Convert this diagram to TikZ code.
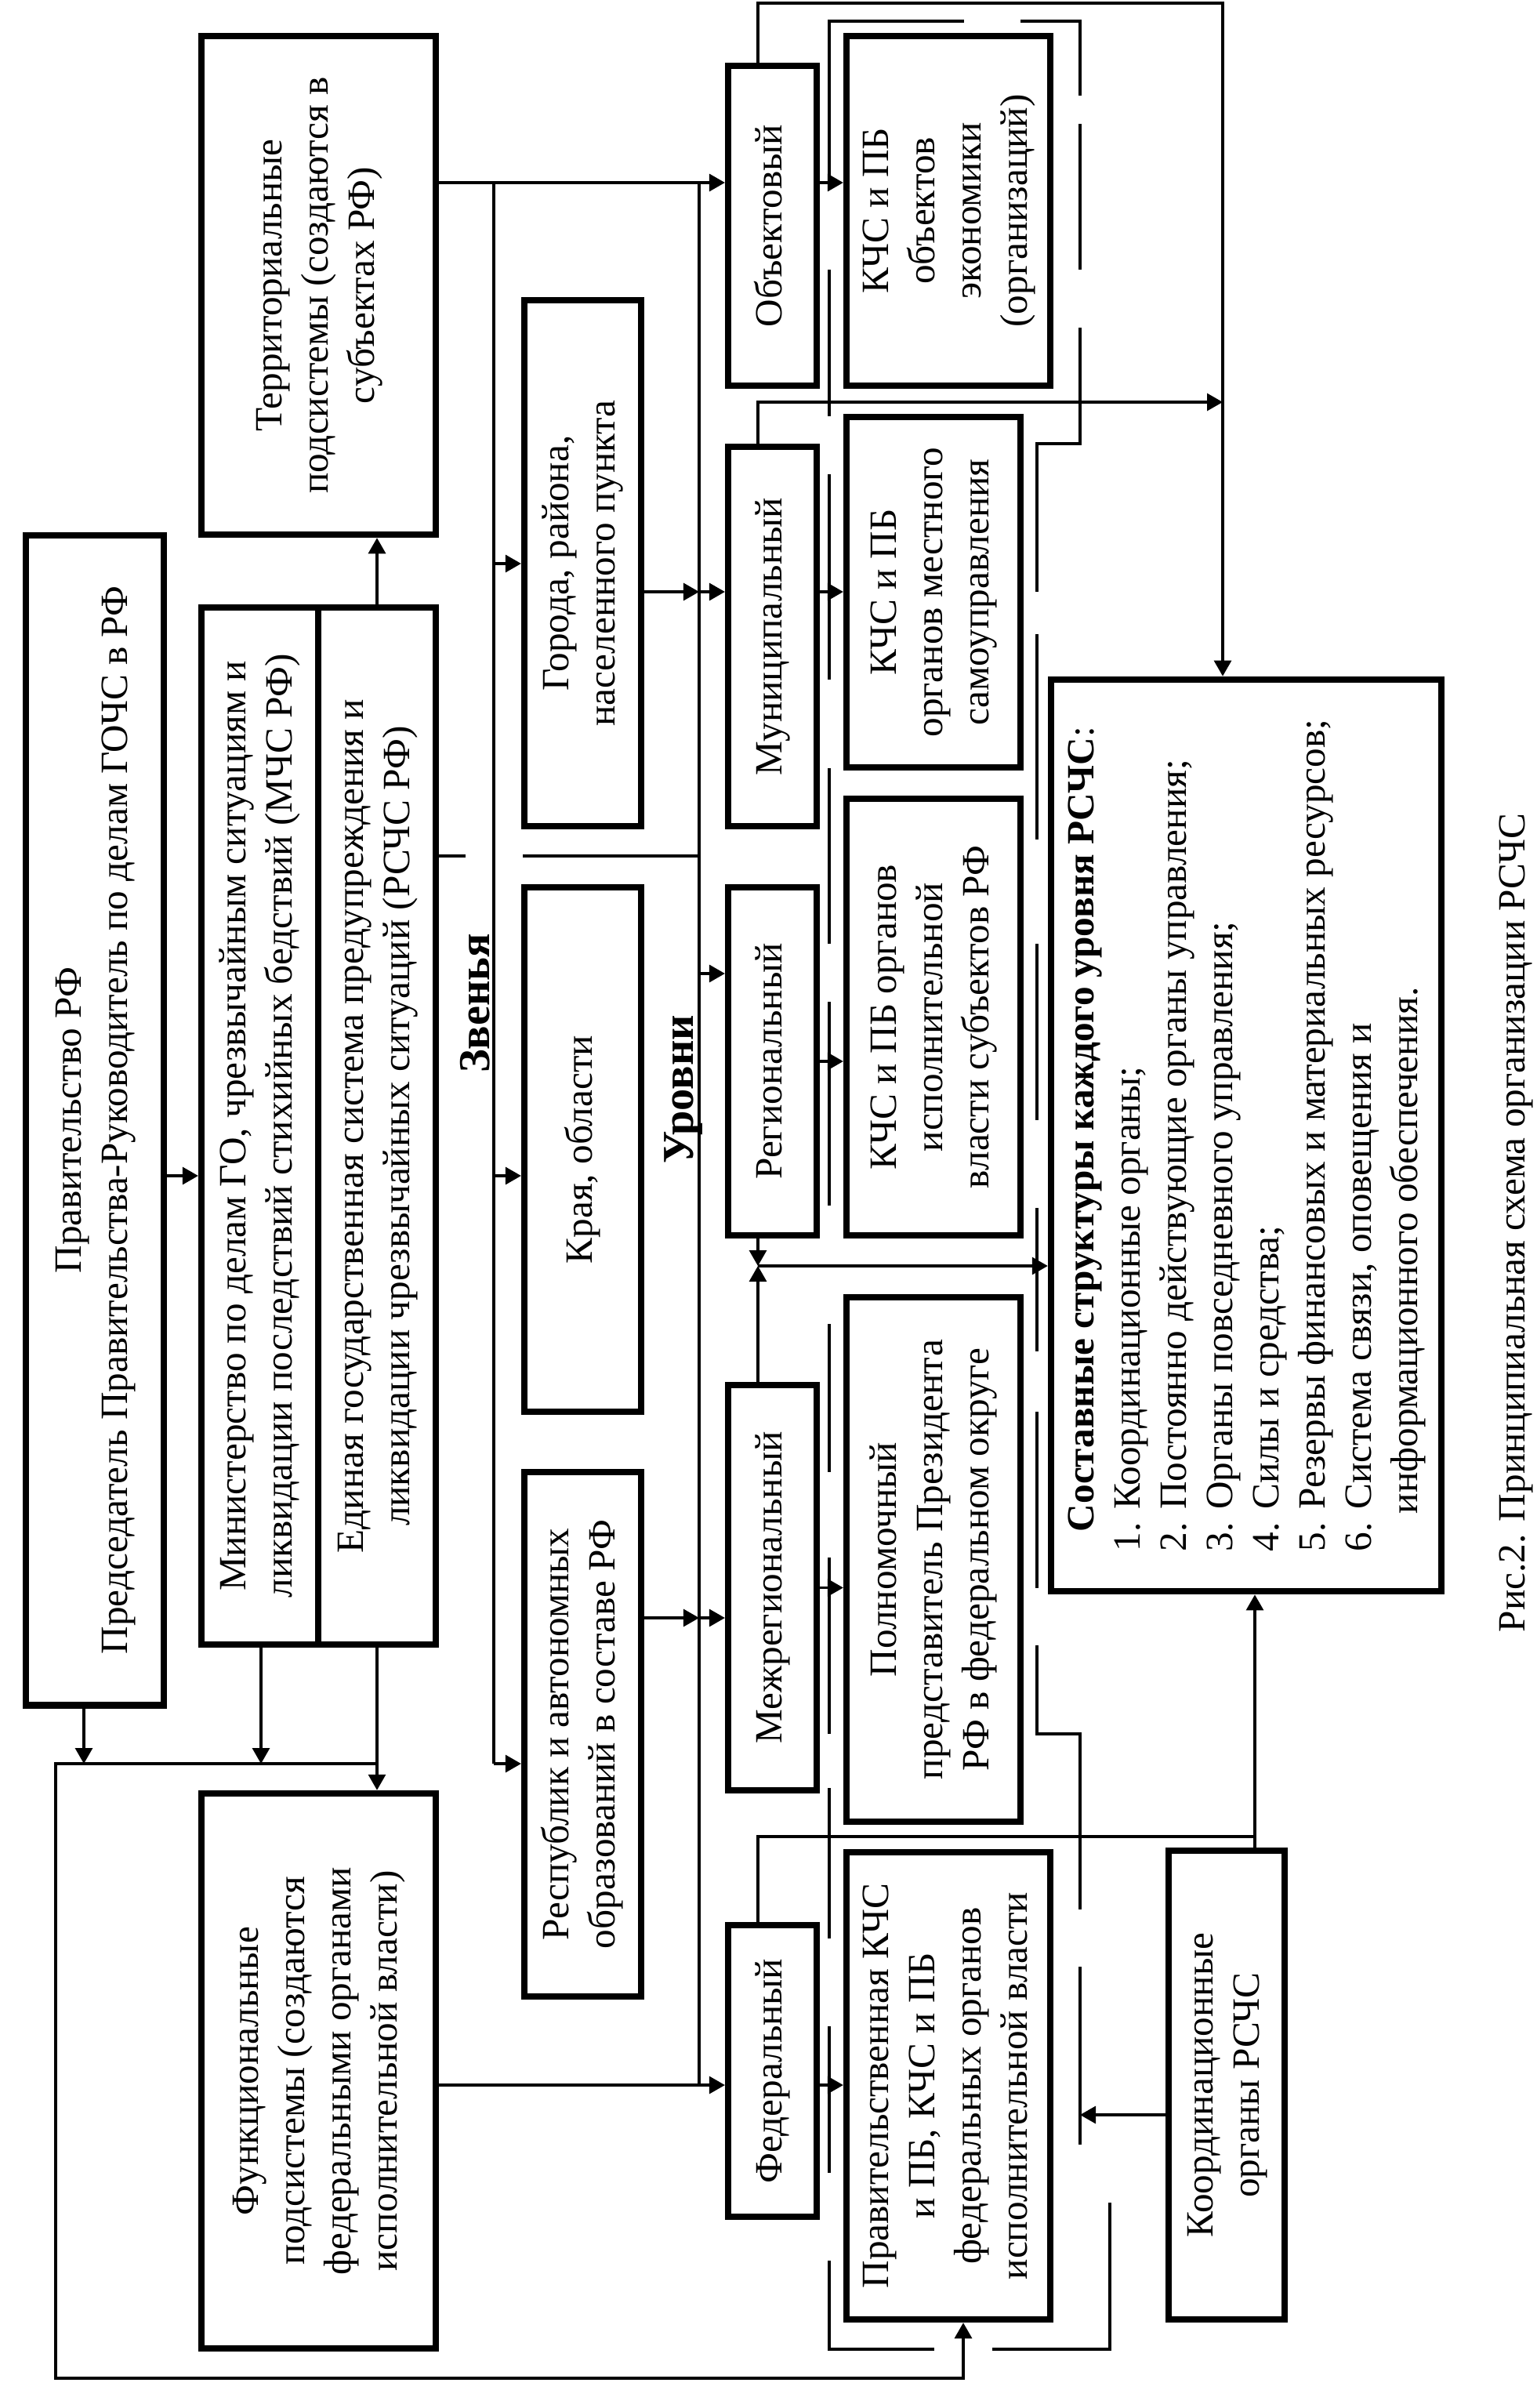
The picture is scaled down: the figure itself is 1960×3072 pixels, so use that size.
\documentclass[tikz,border=0pt]{standalone}
\usepackage{fontspec}
\setmainfont{Liberation Serif}
\usepackage{graphicx}
\usetikzlibrary{arrows.meta}
\newcommand\rtc[1]{\rotatebox{90}{\begin{tabular}{@{}c@{}}#1\end{tabular}}}
\newcommand\rtl[1]{\rotatebox{90}{\begin{tabular}{@{}l@{}}#1\end{tabular}}}
\begin{document}
\begin{tikzpicture}[x=0.01cm,y=-0.01cm,
  bx/.style={draw, line width=2.3pt, inner sep=0pt, font=\fontsize{14pt}{16.8pt}\selectfont},
  arr/.style={line width=0.9pt, -{Triangle[length=0.2cm,width=0.22cm]}},
  ln/.style={line width=0.9pt},
  dsh/.style={line width=0.9pt},
  lbl/.style={rotate=90, font=\fontsize{16pt}{19pt}\selectfont\bfseries, inner sep=0pt},
  captxt/.style={rotate=90, font=\fontsize{14pt}{16.8pt}\selectfont, inner sep=0pt}]
\useasboundingbox (0,0) rectangle (1960,3072);

% ---- boxes ----
\node[bx, minimum width=2.99cm, minimum height=6.36cm] (terr) at (406.5,364)
  {\rtc{Территориальные\\подсистемы (создаются в\\субъектах РФ)}\hspace{0.7cm}};
\node[bx, minimum width=1.49cm, minimum height=13.23cm] (mchs) at (331.5,1436.5)
  {\rtc{Министерство по делам ГО, чрезвычайным ситуациям и\\ликвидации последствий стихийных бедствий (МЧС РФ)}};
\node[bx, minimum width=1.50cm, minimum height=13.23cm] (rschs) at (481,1436.5)
  {\rtc{Единая государственная система предупреждения и\\ликвидации чрезвычайных ситуаций (РСЧС РФ)}};
\node[bx, minimum width=1.76cm, minimum height=14.92cm] (gov) at (121,1429)
  {\rtc{Правительство РФ\\Председатель Правительства-Руководитель по делам ГОЧС в РФ}\hspace{0.22cm}};
\node[bx, minimum width=2.99cm, minimum height=7.08cm] (func) at (406.5,2642)
  {\rtc{Функциональные\\подсистемы (создаются\\федеральными органами\\исполнительной власти)}};

\node[bx, minimum width=1.49cm, minimum height=6.71cm] (gorod) at (743.5,718.5)
  {\rtc{Города, района,\\населенного пункта}};
\node[bx, minimum width=1.49cm, minimum height=6.69cm] (kraya) at (743.5,1466.5)
  {\rtc{Края, области}\hspace{0.53cm}};
\node[bx, minimum width=1.49cm, minimum height=6.69cm] (resp) at (743.5,2212.5)
  {\rtc{Республик и автономных\\образований в составе РФ}};

\node[bx, minimum width=1.13cm, minimum height=4.08cm] (obj) at (985.5,288) {\rtc{Объектовый}};
\node[bx, minimum width=1.13cm, minimum height=4.84cm] (mun) at (985.5,812) {\rtc{Муниципальный}};
\node[bx, minimum width=1.13cm, minimum height=4.44cm] (reg) at (985.5,1354) {\rtc{Региональный}};
\node[bx, minimum width=1.13cm, minimum height=5.17cm] (mezh) at (985.5,2025.5) {\rtc{Межрегиональный}};
\node[bx, minimum width=1.13cm, minimum height=3.72cm] (fed) at (985.5,2642) {\rtc{Федеральный}};

\node[bx, minimum width=2.60cm, minimum height=4.46cm] (kobj) at (1210,269)
  {\rtc{КЧС и ПБ\\объектов\\экономики\\(организаций)}};
\node[bx, minimum width=2.22cm, minimum height=4.47cm] (kmest) at (1191,755.5)
  {\rtc{КЧС и ПБ\\органов местного\\самоуправления}};
\node[bx, minimum width=2.22cm, minimum height=5.57cm] (ksub) at (1191,1297.5)
  {\rtc{КЧС и ПБ органов\\исполнительной\\власти субъектов РФ}};
\node[bx, minimum width=2.22cm, minimum height=6.69cm] (polnom) at (1191,1989.5)
  {\rtc{Полномочный\\представитель Президента\\РФ в федеральном округе}};
\node[bx, minimum width=2.60cm, minimum height=5.96cm] (kpr) at (1210,2661)
  {\rtc{Правительственная КЧС\\и ПБ, КЧС и ПБ\\федеральных органов\\исполнительной власти}};

\node[bx, minimum width=4.98cm, minimum height=11.63cm] (sost) at (1590,1448.5)
  {\rtl{\hspace*{0.25cm}\textbf{Составные структуры каждого уровня РСЧС}:\\
  1. Координационные органы;\\
  2. Постоянно действующие органы управления;\\
  3. Органы повседневного управления;\\
  4. Силы и средства;\\
  5. Резервы финансовых и материальных ресурсов;\\
  6. Система связи, оповещения и\\
  \hspace*{0.48cm}информационного обеспечения.}};
\node[bx, minimum width=1.48cm, minimum height=5.98cm] (koord) at (1565,2660)
  {\rtc{Координационные\\органы РСЧС}};

% ---- labels and caption ----
\node[lbl] (lzv) at (606,1280) {Звенья};
\node[lbl] (lur) at (872,1390) {Уровни};
\node[captxt] (caption) at (1934,1560) {Рис.2. Принципиальная схема организации РСЧС};

% ---- junction coordinates ----
\coordinate (zt) at (630,233);
\coordinate (ut) at (892,233);
\coordinate (zb) at (630,2250);
\coordinate (ub) at (892,2660);
\coordinate (zg) at (630,719);
\coordinate (zk) at (630,1500);
\coordinate (um) at (892,755);
\coordinate (ur) at (892,1242);
\coordinate (urs) at (892,2064);
\coordinate (urs1) at (892,1092);
\coordinate (gap1) at (594,1092);
\coordinate (gap2) at (667,1092);
\coordinate (tt) at (967,4);
\coordinate (tr) at (1560,4);
\coordinate (mt) at (967,513);
\coordinate (mr) at (1560,513);
\coordinate (jn) at (967,1615);
\coordinate (ft) at (967,2343);
\coordinate (fk) at (1601,2343);
\coordinate (ko) at (1378,2698);
\coordinate (lt) at (71,2250);
\coordinate (lb) at (71,3034);
\coordinate (rb) at (1229,3034);
\coordinate (xgv) at (107,2250);
\coordinate (xmc) at (333,2250);
\coordinate (xrs) at (481,2250);

% ---- connectors ----
\draw[arr] (terr.east |- zt) -- (obj.west |- zt);
\draw[ln] (zt) -- (zb);
\draw[arr] (zb) -- (zb -| resp.west);
\draw[arr] (zg) -- (zg -| gorod.west);
\draw[arr] (zk) -- (zk -| kraya.west);
\draw[ln] (ut) -- (ub);
\draw[arr] (gorod.east |- um) -- (um);
\draw[arr] (um) -- (um -| mun.west);
\draw[arr] (mun.east |- um) -- (um -| kmest.west);
\draw[arr] (obj.east |- zt) -- (zt -| kobj.west);
\draw[arr] (ur) -- (ur -| reg.west);
\draw[arr] (reg.east) -- (reg.east -| ksub.west);
\draw[arr] (resp.east |- urs) -- (urs);
\draw[arr] (urs) -- (urs -| mezh.west);
\draw[arr] (mezh.east) -- (mezh.east -| polnom.west);
\draw[arr] (func.east |- ub) -- (ub -| fed.west);
\draw[arr] (fed.east |- ub) -- (ub -| kpr.west);
\draw[ln] (rschs.east |- urs1) -- (gap1);
\draw[ln] (gap2) -- (urs1);
\draw[arr] (rschs.north -| xrs) -- (terr.south -| xrs);
\draw[arr] (gov.east |- zk) -- (zk -| mchs.west);
\draw[arr] (gov.south -| xgv) -- (xgv);
\draw[arr] (mchs.south -| xmc) -- (xmc);
\draw[arr] (rschs.south -| xrs) -- (func.north -| xrs);
\draw[arr] (xrs) -- (lt) -- (lb) -- (rb) -- (kpr.south -| rb);
\draw[arr] (obj.north -| tt) -- (tt) -- (tr) -- (sost.north -| tr);
\draw[arr] (mun.north -| mt) -- (mt) -- (mr);
\draw[arr] (reg.south -| jn) -- (jn);
\draw[arr] (mezh.north -| jn) -- (jn);
\draw[arr] (jn) -- (jn -| sost.west);
\draw[ln] (fed.north -| ft) -- (ft) -- (fk);
\draw[arr] (koord.north -| fk) -- (sost.south -| fk);
\draw[arr] (koord.west |- ko) -- (ko);

% ---- long-dashed enclosure (drawn as its dashes) ----
% left side x=1058
\draw[dsh] (1058,224) -- (1058,27) -- (1230,27);
\foreach \a/\b in {344/531, 605/867, 980/1204, 1278/1538, 1689/1878, 1987/2212, 2281/2473, 2585/2772}
  \draw[dsh] (1058,\a) -- (1058,\b);
\draw[dsh] (1058,2884) -- (1058,2997) -- (1192,2997);
% top and right side
\draw[dsh] (1302,27) -- (1378,27) -- (1378,122);
\draw[dsh] (1378,158) -- (1378,344);
\draw[dsh] (1378,418) -- (1378,566) -- (1323,566) -- (1323,755);
\foreach \a/\b in {809/1071, 1204/1429, 1541/1724, 1801/2026}
  \draw[dsh] (1323,\a) -- (1323,\b);
\draw[dsh] (1323,2099) -- (1323,2212) -- (1378,2212) -- (1378,2436);
\draw[dsh] (1378,2509) -- (1378,2736);
\draw[dsh] (1416,2810) -- (1416,2997) -- (1266,2997);
\end{tikzpicture}
\end{document}
